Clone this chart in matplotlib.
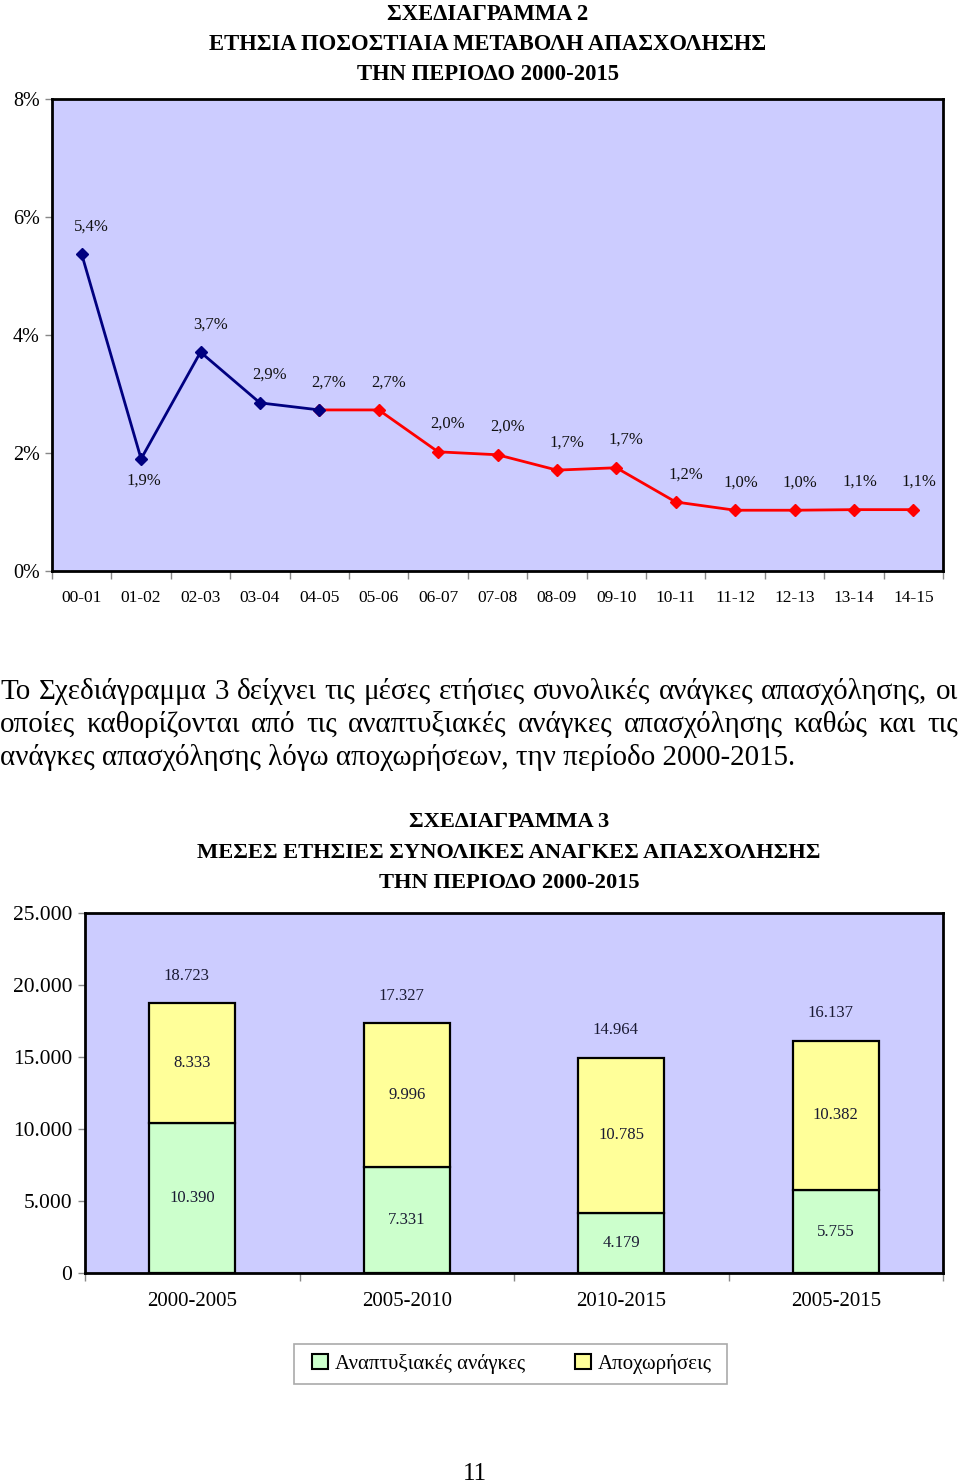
import matplotlib
matplotlib.use("Agg")
import matplotlib.pyplot as plt
from matplotlib.patches import Rectangle
import numpy as np

plt.rcParams['font.family'] = ['Liberation Serif', 'DejaVu Serif']

# --- Σχεδιάγραμμα 2: ετήσια ποσοστιαία μεταβολή απασχόλησης ---
periods = ['00-01', '01-02', '02-03', '03-04', '04-05', '05-06', '06-07', '07-08',
           '08-09', '09-10', '10-11', '11-12', '12-13', '13-14', '14-15']
change_pct = [5.37, 1.90, 3.71, 2.85, 2.73, 2.73, 2.02, 1.97, 1.71, 1.75,
              1.17, 1.03, 1.03, 1.04, 1.04]
change_labels = ['5,4%', '1,9%', '3,7%', '2,9%', '2,7%', '2,7%', '2,0%', '2,0%',
                 '1,7%', '1,7%', '1,2%', '1,0%', '1,0%', '1,1%', '1,1%']
split_idx = 4  # από 04-05 και μετά: κόκκινη γραμμή

# --- Σχεδιάγραμμα 3: μέσες ετήσιες συνολικές ανάγκες ---
bar_periods = ['2000-2005', '2005-2010', '2010-2015', '2005-2015']
dev_needs = [10390, 7331, 4179, 5755]
retirements = [8333, 9996, 10785, 10382]
totals = [18723, 17327, 14964, 16137]

para_lines = [
    'Το Σχεδιάγραμμα 3 δείχνει τις μέσες ετήσιες συνολικές ανάγκες απασχόλησης, οι',
    'οποίες καθορίζονται από τις αναπτυξιακές ανάγκες απασχόλησης καθώς και τις',
    'ανάγκες απασχόλησης λόγω αποχωρήσεων, την περίοδο 2000-2015.',
]

BG = '#CCCCFF'
NAVY = '#000080'
RED = '#FF0000'
GREEN = '#CCFFCC'
YELLOW = '#FFFF99'

W, H = 960, 1484
fig = plt.figure(figsize=(W / 100, H / 100), dpi=100)


def fx(px):
    return px / W


def fy(py):
    return 1 - py / H


def frame(ax):
    ax.set_facecolor(BG)
    for s in ax.spines.values():
        s.set_linewidth(2)
        s.set_color('black')
    ax.tick_params(axis='both', which='major', length=0)
    ax.tick_params(axis='x', which='minor', length=6, color='#888888', width=1)


# ---------------- top chart ----------------
ax1 = fig.add_axes([fx(52), fy(571), fx(943 - 52), (571 - 99) / H])
frame(ax1)
x = np.arange(len(periods))
ax1.plot(x[split_idx:], change_pct[split_idx:], color=RED, lw=2,
         marker='D', ms=6, mfc=RED, mec=RED, zorder=3)
ax1.plot(x[:split_idx + 1], change_pct[:split_idx + 1], color=NAVY, lw=2,
         marker='D', ms=6, mfc=NAVY, mec=NAVY, zorder=4)
ax1.set_xlim(-0.5, len(periods) - 0.5)
ax1.set_ylim(0, 8)
ax1.set_yticks([0, 2, 4, 6, 8])
ax1.set_yticklabels(['0%', '2%', '4%', '6%', '8%'], fontsize=14.5)
ax1.tick_params(axis='y', which='major', length=5, color='#888888', width=1, pad=4)
ax1.set_xticks(x)
ax1.set_xticklabels(periods, fontsize=12.5)
ax1.set_xticks(np.arange(-0.5, len(periods)), minor=True)
ax1.tick_params(axis='x', which='major', pad=14)

for i, (v, lab) in enumerate(zip(change_pct, change_labels)):
    if i == 1:
        dx, dy = 2, -16
    else:
        dx, dy = (4 if i >= 11 else 7), 20
    ax1.annotate(lab, (i, v), xytext=(dx, dy), textcoords='offset points',
                 ha='center', va='center', fontsize=12, color='#111111')

title2 = ['ΣΧΕΔΙΑΓΡΑΜΜΑ 2', 'ΕΤΗΣΙΑ ΠΟΣΟΣΤΙΑΙΑ ΜΕΤΑΒΟΛΗ ΑΠΑΣΧΟΛΗΣΗΣ',
          'ΤΗΝ ΠΕΡΙΟΔΟ 2000-2015']
for k, t in enumerate(title2):
    fig.text(fx(488), fy(14 + 30 * k), t, ha='center', va='center',
             fontsize=16.3, fontweight='bold')

# ---------------- paragraph (justified) ----------------
renderer = fig.canvas.get_renderer()
para_fs = 20.9
baselines = [699, 732, 765]
for li, line in enumerate(para_lines):
    words = line.split(' ')
    if li < len(para_lines) - 1:
        arts = [fig.text(0, fy(baselines[li]), w_, fontsize=para_fs, va='baseline')
                for w_ in words]
        widths = [a.get_window_extent(renderer).width for a in arts]
        gap = max((958 - sum(widths)) / (len(words) - 1), 3)
        pos = 0.0
        for a, wd in zip(arts, widths):
            a.set_x(fx(pos))
            pos += wd + gap
    else:
        fig.text(0, fy(baselines[li]), line, fontsize=para_fs, va='baseline')

# ---------------- bar chart ----------------
ax2 = fig.add_axes([fx(85), fy(1273), fx(943 - 85), (1273 - 913) / H])
frame(ax2)
xb = np.arange(len(bar_periods))
bw = 0.4
ax2.bar(xb, dev_needs, bw, color=GREEN, edgecolor='black', lw=1.6, zorder=3)
ax2.bar(xb, retirements, bw, bottom=dev_needs, color=YELLOW, edgecolor='black',
        lw=1.6, zorder=3)
ax2.set_xlim(-0.5, len(bar_periods) - 0.5)
ax2.set_ylim(0, 25000)
yt = np.arange(0, 25001, 5000)


def fmt(v):
    return f'{v:,}'.replace(',', '.')


ax2.set_yticks(yt)
ax2.set_yticklabels(['0' if v == 0 else fmt(v) for v in yt], fontsize=15.5)
ax2.tick_params(axis='y', which='major', length=5, color='#888888', width=1, pad=4)
ax2.set_xticks(xb)
ax2.set_xticklabels(bar_periods, fontsize=15)
ax2.set_xticks(np.arange(-0.5, len(bar_periods)), minor=True)
ax2.tick_params(axis='x', which='major', pad=14)

for i in range(len(bar_periods)):
    ax2.annotate(fmt(totals[i]), (i, totals[i]), xytext=(-4, 20),
                 textcoords='offset points', ha='center', va='center',
                 fontsize=12, color='#1a1a33')
    ax2.text(i, dev_needs[i] / 2, fmt(dev_needs[i]), ha='center', va='center',
             fontsize=12, color='#1a1a33', zorder=4)
    ax2.text(i, dev_needs[i] + retirements[i] / 2, fmt(retirements[i]),
             ha='center', va='center', fontsize=12, color='#1a1a33', zorder=4)

title3 = ['ΣΧΕΔΙΑΓΡΑΜΜΑ 3', 'ΜΕΣΕΣ ΕΤΗΣΙΕΣ ΣΥΝΟΛΙΚΕΣ ΑΝΑΓΚΕΣ ΑΠΑΣΧΟΛΗΣΗΣ',
          'ΤΗΝ ΠΕΡΙΟΔΟ 2000-2015']
for k, t in enumerate(title3):
    fig.text(fx(509), fy(822 + 30.5 * k), t, ha='center', va='center',
             fontsize=16.2, fontweight='bold')

# legend: own frame box, entries without frame
fig.patches.append(Rectangle((fx(294), fy(1384)), fx(727 - 294), (1384 - 1344) / H,
                             transform=fig.transFigure, fc='white', ec='#aaaaaa',
                             lw=1.2, zorder=1))
handles = [Rectangle((0, 0), 1, 1, fc=GREEN, ec='black', lw=1.5),
           Rectangle((0, 0), 1, 1, fc=YELLOW, ec='black', lw=1.5)]
leg = fig.legend(handles, ['Αναπτυξιακές ανάγκες', 'Αποχωρήσεις'], ncol=2,
                 loc='center', bbox_to_anchor=(fx(512), fy(1364)),
                 fontsize=15, frameon=False,
                 handlelength=0.75, handleheight=0.75, handletextpad=0.35,
                 columnspacing=2.4, borderpad=0.3)

fig.text(fx(475), fy(1480), '11', ha='center', va='baseline', fontsize=18)

fig.savefig('out.png', dpi=100)
